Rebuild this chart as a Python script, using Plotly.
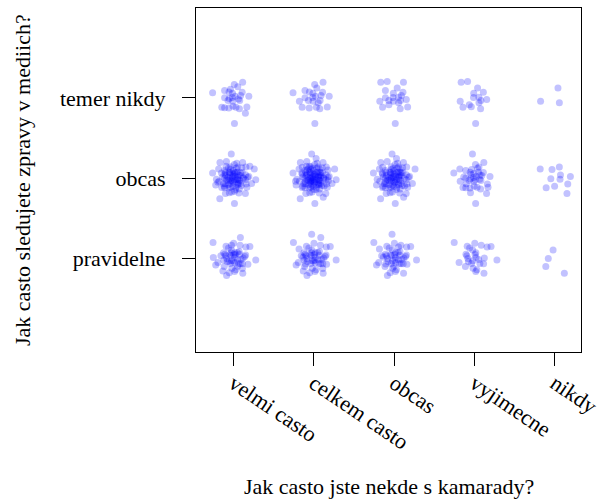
import numpy as np
import plotly.graph_objects as go

# Categories
x_labels = ["velmi casto", "celkem casto", "obcas", "vyjimecne", "nikdy"]
y_labels = ["pravidelne", "obcas", "temer nikdy"]

# Estimated number of respondents per cell (row = y category, column = x category)
counts_pravidelne = [55, 55, 50, 28, 4]
counts_obcas = [95, 115, 95, 40, 11]
counts_temer_nikdy = [28, 24, 22, 16, 3]

x_title = "Jak casto jste nekde s kamarady?"
y_title = "Jak casto sledujete zpravy v mediich?"


def halton(k, base):
    f, r = 1.0, 0.0
    while k > 0:
        f /= base
        r += f * (k % base)
        k //= base
    return r


# deterministic jitter (display only, low-discrepancy Box-Muller)
SD = 0.11
xs, ys = [], []
for yi, row in enumerate([counts_pravidelne, counts_obcas, counts_temer_nikdy], start=1):
    for xi, n in enumerate(row, start=1):
        off = 7 * xi + 31 * yi
        for i in range(n):
            u1 = halton(i + off + 1, 2)
            u2 = halton(i + off + 1, 3)
            u1 = min(max(u1, 0.012), 0.999)
            r = SD * min(np.sqrt(-2 * np.log(u1)), 2.9)
            a = 2 * np.pi * u2
            xs.append(xi + r * np.cos(a))
            ys.append(yi + r * np.sin(a))

fig = go.Figure(
    go.Scatter(
        x=xs, y=ys, mode="markers",
        marker=dict(size=7, color="rgba(0,0,255,0.24)", line=dict(width=0)),
        hoverinfo="skip",
    )
)

font = dict(family="Liberation Serif, Times New Roman, serif", size=22, color="black")

fig.update_layout(
    width=600, height=502,
    margin=dict(l=196, r=19, t=8, b=150, autoexpand=False),
    plot_bgcolor="white", paper_bgcolor="white",
    showlegend=False,
    font=font,
)
fig.update_xaxes(
    range=[0.536, 5.325], tickmode="array", tickvals=[1, 2, 3, 4, 5], ticktext=x_labels,
    tickangle=34, ticks="outside", ticklen=13, tickcolor="black", tickwidth=1,
    showline=True, linecolor="black", linewidth=1, mirror=True, automargin=False,
    showgrid=False, zeroline=False, tickfont=font, ticklabeloverflow="allow",
    ticklabelstandoff=-4,
)
fig.update_yaxes(
    range=[-0.171, 4.123], tickmode="array", tickvals=[1, 2, 3], ticktext=y_labels,
    ticks="outside", ticklen=13, tickcolor="black", tickwidth=1,
    showline=True, linecolor="black", linewidth=1, mirror=True, automargin=False,
    showgrid=False, zeroline=False, tickfont=font, ticklabelstandoff=12,
)
fig.add_annotation(text=x_title, xref="paper", yref="paper", x=0.5, y=-0.391,
                   xanchor="center", yanchor="middle", showarrow=False, font=font)
fig.add_annotation(text=y_title, xref="paper", yref="paper", x=-0.452, y=0.5,
                   xanchor="center", yanchor="middle", showarrow=False, textangle=-90, font=font)

fig.write_html("out.html")
